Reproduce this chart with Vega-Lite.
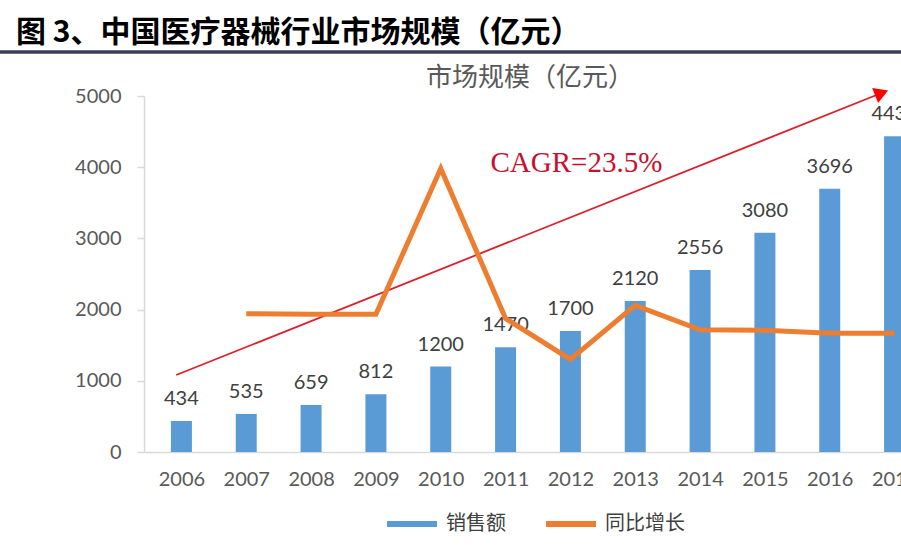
{
  "$schema": "https://vega.github.io/schema/vega-lite/v6.json",
  "width": 788,
  "height": 356,
  "autosize": {"type": "none"},
  "padding": {"left": 144, "top": 96, "right": 0, "bottom": 94},
  "background": "white",
  "title": {
    "text": "图 3、中国医疗器械行业市场规模（亿元）",
    "anchor": "start",
    "frame": "group",
    "dx": -128,
    "offset": -22,
    "baseline": "alphabetic",
    "font": "Noto Sans CJK SC",
    "fontSize": 30,
    "fontWeight": "bold",
    "color": "#000000"
  },
  "config": {"view": {"stroke": null}, "font": "Noto Sans CJK SC"},
  "datasets": {
    "main": [
      {"year": 2006, "sales": 434, "growth": null},
      {"year": 2007, "sales": 535, "growth": 0.233},
      {"year": 2008, "sales": 659, "growth": 0.232},
      {"year": 2009, "sales": 812, "growth": 0.232},
      {"year": 2010, "sales": 1200, "growth": 0.478},
      {"year": 2011, "sales": 1470, "growth": 0.225},
      {"year": 2012, "sales": 1700, "growth": 0.156},
      {"year": 2013, "sales": 2120, "growth": 0.247},
      {"year": 2014, "sales": 2556, "growth": 0.206},
      {"year": 2015, "sales": 3080, "growth": 0.205},
      {"year": 2016, "sales": 3696, "growth": 0.2},
      {"year": 2017, "sales": 4435, "growth": 0.2}
    ]
  },
  "encoding": {
    "x": {
      "field": "year", "type": "quantitative",
      "scale": {"domain": [2005.5, 2017.5], "nice": false, "zero": false},
      "axis": {
        "title": null, "orient": "bottom", "values": [2006, 2007, 2008, 2009, 2010, 2011, 2012, 2013, 2014, 2015, 2016, 2017],
        "format": "d", "grid": false, "ticks": false, "domainColor": "#D9D9D9", "domainWidth": 1.5,
        "labelFont": "Lato", "labelFontSize": 20, "labelColor": "#595959", "labelPadding": 17,
        "labelFlush": false, "labelOverlap": false
      }
    }
  },
  "layer": [
    {
      "data": {"name": "main"},
      "mark": {"type": "bar", "size": 21},
      "encoding": {
        "y": {
          "field": "sales", "type": "quantitative",
          "scale": {"domain": [0, 5000], "nice": false},
          "axis": {
            "title": null, "orient": "left", "values": [0, 1000, 2000, 3000, 4000, 5000], "format": "d", "grid": false,
            "domainColor": "#D9D9D9", "domainWidth": 1.5, "tickColor": "#D9D9D9", "tickSize": 7, "tickWidth": 1.5,
            "labelFont": "Lato", "labelFontSize": 20, "labelColor": "#595959", "labelPadding": 16,
            "labelFlush": false, "labelOverlap": false
          }
        },
        "color": {
          "datum": "销售额", "type": "nominal",
          "scale": {"domain": ["销售额", "同比增长"], "range": ["#5B9BD5", "#ED7D31"]},
          "legend": {
            "title": null, "orient": "none", "legendX": 240, "legendY": 400, "direction": "horizontal",
            "symbolType": "stroke", "symbolStrokeWidth": 6, "symbolSize": 2500,
            "labelFont": "Noto Sans CJK SC", "labelFontSize": 20, "labelColor": "#404040",
            "labelOffset": 6, "columnPadding": 28,
            "encode": {"symbols": {"update": {"stroke": {"scale": "color", "field": "value"}}}}
          }
        }
      }
    },
    {
      "data": {"name": "main"},
      "mark": {"type": "text", "dy": -16, "baseline": "alphabetic", "font": "Lato", "fontSize": 20, "color": "#404040"},
      "encoding": {
        "y": {"field": "sales", "type": "quantitative", "scale": {"domain": [0, 5000], "nice": false}, "axis": null},
        "text": {"field": "sales", "type": "quantitative", "format": "d"}
      }
    },
    {
      "data": {"values": [{"year": 2003, "year2": 2019, "value": 5618}]},
      "mark": {"type": "rule", "strokeWidth": 3.5, "color": "#3C3C5C"},
      "encoding": {
        "x2": {"field": "year2"},
        "y": {"field": "value", "type": "quantitative", "scale": {"domain": [0, 5000], "nice": false}, "axis": null}
      }
    },
    {
      "data": {"values": [{"year": 2005.92, "value": 1081, "year2": 2016.78, "value2": 5035}]},
      "mark": {"type": "rule", "strokeWidth": 1.8, "color": "#E01E28"},
      "encoding": {
        "x2": {"field": "year2"},
        "y": {"field": "value", "type": "quantitative", "scale": {"domain": [0, 5000], "nice": false}, "axis": null},
        "y2": {"field": "value2"}
      }
    },
    {
      "data": {"values": [{"year": 2016.8, "value": 5042}]},
      "mark": {"type": "point", "shape": "triangle-right", "filled": true, "size": 260, "angle": 338.5, "color": "#FF0000", "opacity": 1},
      "encoding": {
        "y": {"field": "value", "type": "quantitative", "scale": {"domain": [0, 5000], "nice": false}, "axis": null}
      }
    },
    {
      "data": {"values": [{"year": 2011.377, "value": 5140, "label": "市场规模（亿元）"}]},
      "mark": {"type": "text", "align": "center", "baseline": "alphabetic", "font": "Noto Sans CJK SC", "fontSize": 26, "color": "#595959"},
      "encoding": {
        "y": {"field": "value", "type": "quantitative", "scale": {"domain": [0, 5000], "nice": false}, "axis": null},
        "text": {"field": "label"}
      }
    },
    {
      "data": {"values": [{"year": 2010.767, "value": 3937, "label": "CAGR=23.5%"}]},
      "mark": {"type": "text", "align": "left", "baseline": "alphabetic", "font": "Liberation Serif", "fontSize": 29, "color": "#C8102E"},
      "encoding": {
        "y": {"field": "value", "type": "quantitative", "scale": {"domain": [0, 5000], "nice": false}, "axis": null},
        "text": {"field": "label"}
      }
    },
    {
      "data": {"name": "main"},
      "transform": [{"filter": "isValid(datum.growth)"}],
      "mark": {"type": "line", "strokeWidth": 5, "strokeJoin": "miter"},
      "encoding": {
        "y": {"field": "growth", "type": "quantitative", "scale": {"domain": [0, 0.6], "nice": false}, "axis": null},
        "color": {"datum": "同比增长", "type": "nominal"}
      }
    }
  ],
  "resolve": {"scale": {"y": "independent"}}
}
